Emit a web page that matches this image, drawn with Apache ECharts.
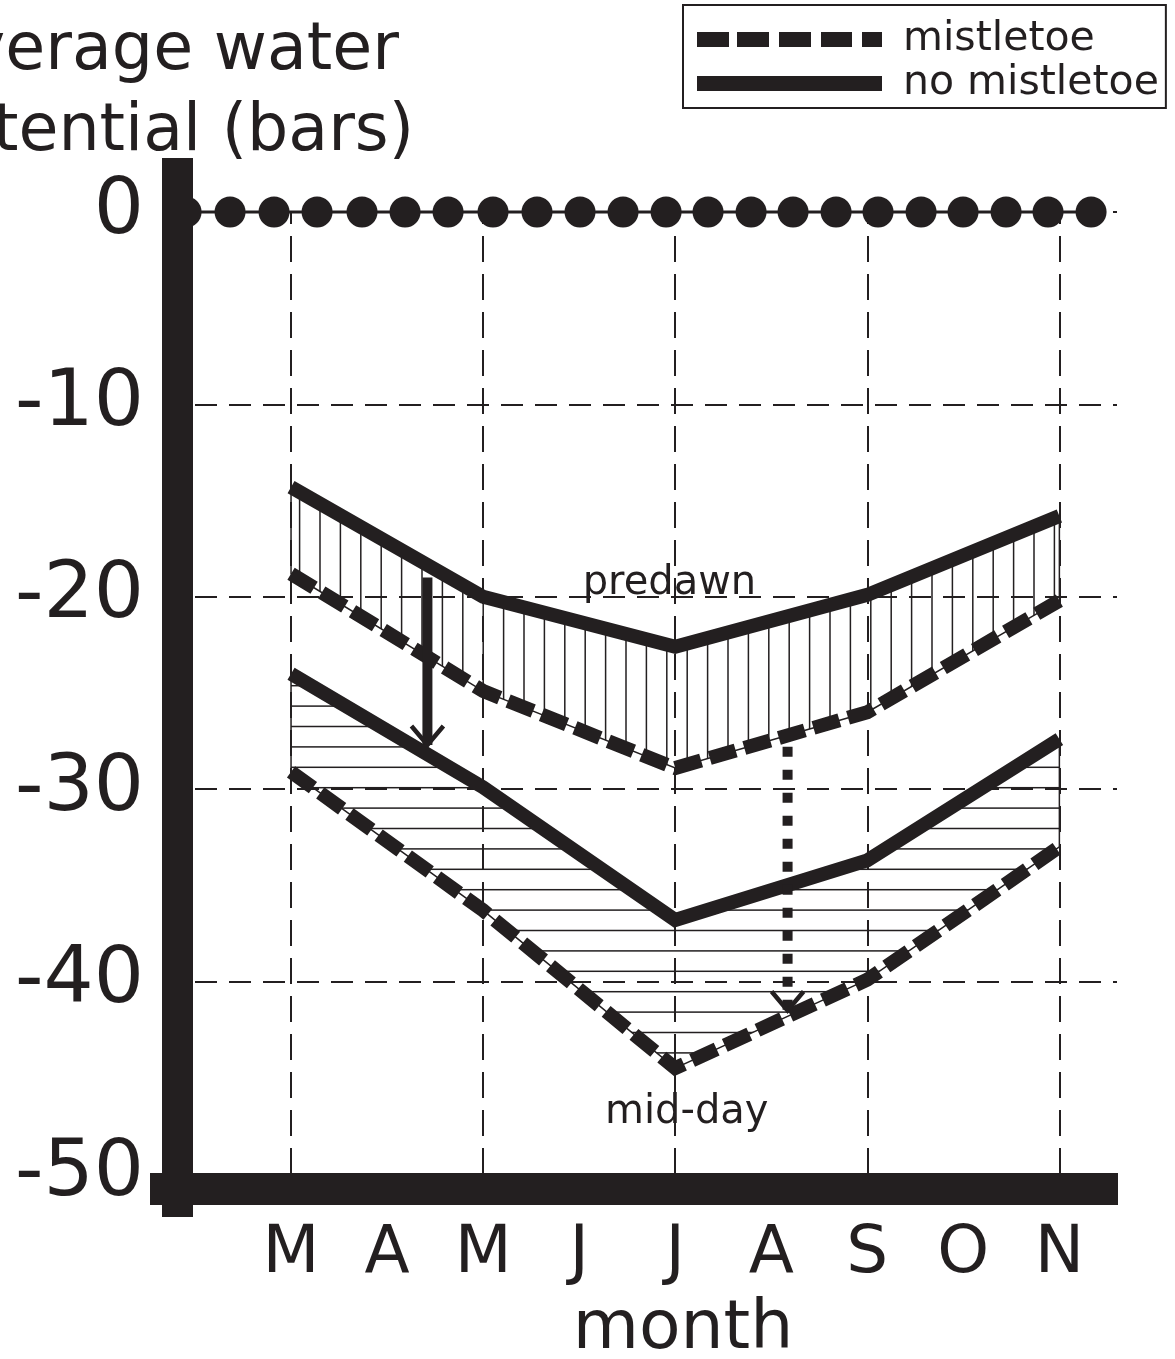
<!DOCTYPE html>
<html><head><meta charset="utf-8">
<script src="https://cdn.jsdelivr.net/npm/echarts@6/dist/echarts.min.js"></script>
<style>html,body{margin:0;padding:0;background:#fff}#c{width:1175px;height:1359px}</style>
</head><body><div id="c"></div>
<script>
// ---- data ----
const months = [3, 5, 7, 9, 11];                       // Mar, May, Jul, Sep, Nov
const monthTicks = [3, 4, 5, 6, 7, 8, 9, 10, 11];
const monthLabels = ['M', 'A', 'M', 'J', 'J', 'A', 'S', 'O', 'N'];
const predawnNoMistletoe = [-14.3, -20.0, -22.6, -19.9, -15.8];
const predawnMistletoe   = [-18.8, -24.9, -28.9, -26.0, -20.2];
const middayNoMistletoe  = [-24.0, -29.9, -36.8, -33.7, -27.4];
const middayMistletoe    = [-29.1, -36.3, -44.5, -39.9, -33.0];
const zeroDotMonths = [1.907, 2.365, 2.823, 3.271, 3.739, 4.187, 4.635, 5.103, 5.561, 6.009, 6.457,
                       6.905, 7.342, 7.790, 8.227, 8.675, 9.112, 9.560, 9.997, 10.445, 10.882, 11.330];
const gridMonths = [3, 5, 7, 9, 11];
const arrowMonths = [4.42, 8.17];
const arrowFrom = [-19.0, -27.8];
const arrowTo = [-27.7, -41.5];
const arrowStyles = ['solid', 'dotted'];
const noteText = ['predawn', 'mid-day'];
const noteMonths = [6.94, 7.12];
const noteValues = [-19.3, -46.8];

// ---- style ----
const INK = '#231f20';
const FONT = 'DejaVu Sans';

function hatch(vertical) {
  const c = document.createElement('canvas');
  const n = 102;
  c.width = vertical ? n : 4;
  c.height = vertical ? 4 : n;
  const ctx = c.getContext('2d');
  ctx.fillStyle = INK;
  for (let k = 0; k < 5; k++) {
    const p = (vertical ? 14 : 12.5) + k * 20.4;
    if (vertical) ctx.fillRect(p - 0.75, 0, 1.5, 4);
    else ctx.fillRect(0, p - 0.75, 4, 1.5);
  }
  return c;
}
const vHatch = hatch(true);
const hHatch = hatch(false);

function band(name, upper, lower, pattern) {
  return {
    type: 'custom', name: name, coordinateSystem: 'cartesian2d', silent: true, z: 1,
    data: [[months[0], upper[0]]],
    renderItem: function (params, api) {
      const pts = months.map((m, i) => api.coord([m, upper[i]]));
      for (let i = months.length - 1; i >= 0; i--) pts.push(api.coord([months[i], lower[i]]));
      return {
        type: 'polygon', shape: { points: pts },
        style: { fill: { image: pattern, repeat: 'repeat' }, stroke: INK, lineWidth: 1.5 }
      };
    }
  };
}

function curve(name, values, dashed) {
  return {
    type: 'line', name: name, silent: true, z: 5,
    data: months.map((m, i) => [m, values[i]]),
    symbol: 'none', showSymbol: false,
    itemStyle: { color: INK },
    lineStyle: { color: INK, width: 14, type: dashed ? [27, 9] : 'solid', join: 'miter', cap: 'butt' }
  };
}

const chart = echarts.init(document.getElementById('c'), null, { renderer: 'canvas' });
chart.setOption({
  animation: false,
  backgroundColor: '#fff',
  grid: { left: 195, right: 58, top: 212, bottom: 185, containLabel: false, outerBoundsMode: 'none' },
  legend: {
    orient: 'vertical', left: 683, top: 5, padding: [14, 7, 4, 14],
    itemWidth: 185, itemHeight: 15, itemGap: 3, selectedMode: false,
    borderColor: INK, borderWidth: 2, borderRadius: 0,
    itemStyle: { borderWidth: 0 },
    textStyle: { fontFamily: FONT, fontSize: 41, lineHeight: 40, color: INK, padding: [0, 0, 0, 16] },
    data: [
      { name: 'mistletoe', icon: 'path://M0,0H32V15H0Z M40,0H72V15H40Z M82,0H114V15H82Z M124,0H155V15H124Z M165,0H185V15H165Z' },
      { name: 'no mistletoe', icon: 'rect' }
    ]
  },
  xAxis: {
    type: 'value', min: 2, max: 11.6, interval: 1,
    axisLine: { show: false }, axisTick: { show: false }, splitLine: { show: false },
    axisLabel: {
      margin: 49, fontFamily: FONT, fontSize: 66, lineHeight: 64, color: INK,
      showMinLabel: true, showMaxLabel: true, hideOverlap: false,
      formatter: function (v) {
        const i = monthTicks.indexOf(Math.round(v * 1000) / 1000);
        return i >= 0 ? monthLabels[i] : '';
      }
    },
    name: 'month', nameLocation: 'middle', nameGap: 123, nameMoveOverlap: false,
    nameTextStyle: { fontFamily: FONT, fontSize: 68, lineHeight: 66, color: INK, padding: [0, 0, 0, 54] }
  },
  yAxis: {
    type: 'value', min: -50, max: 0, interval: 10, offset: 17,
    axisLine: { show: false }, axisTick: { show: false },
    splitLine: { show: true, lineStyle: { color: INK, width: 2, type: [22, 12] } },
    axisLabel: { margin: 34, fontFamily: FONT, fontSize: 79, color: INK, hideOverlap: false },
    name: 'average water\npotential (bars)', nameLocation: 'end', nameGap: 38, nameMoveOverlap: false,
    nameTextStyle: { fontFamily: FONT, fontSize: 65, lineHeight: 81, color: INK, align: 'center', padding: [0, 30, 0, 0] }
  },
  graphic: [
    { type: 'rect', z: 100, shape: { x: 162, y: 158, width: 31, height: 1059 }, style: { fill: INK } },
    { type: 'rect', z: 100, shape: { x: 150, y: 1173, width: 968, height: 32 }, style: { fill: INK } }
  ],
  series: [
    band('predawn band', predawnNoMistletoe, predawnMistletoe, vHatch),
    band('mid-day band', middayNoMistletoe, middayMistletoe, hHatch),
    {
      type: 'line', name: 'zero', silent: true, z: 4, clip: false,
      data: zeroDotMonths.map(m => [m, 0]),
      symbol: 'circle', symbolSize: 31, showSymbol: true, showAllSymbol: true,
      itemStyle: { color: INK }, lineStyle: { color: INK, width: 3 },
      markLine: {
        silent: true, symbol: ['none', 'none'], label: { show: false },
        lineStyle: { color: INK, width: 2, type: [26, 12] },
        data: gridMonths.map(m => ({ xAxis: m }))
      }
    },
    curve('mistletoe', predawnMistletoe, true),
    curve('mistletoe', middayMistletoe, true),
    curve('no mistletoe', predawnNoMistletoe, false),
    curve('no mistletoe', middayNoMistletoe, false),
    {
      type: 'custom', name: 'arrows', coordinateSystem: 'cartesian2d', silent: true, z: 6,
      data: arrowMonths.map((m, i) => [m, arrowFrom[i], arrowTo[i], i]),
      encode: { x: 0, y: [1, 2] },
      renderItem: function (params, api) {
        const i = api.value(3);
        const a = api.coord([api.value(0), api.value(1)]);
        const b = api.coord([api.value(0), api.value(2)]);
        const dotted = arrowStyles[i] === 'dotted';
        return {
          type: 'group', children: [
            { type: 'line', shape: { x1: a[0], y1: a[1], x2: b[0], y2: b[1] },
              style: { stroke: INK, lineWidth: 10, lineDash: dotted ? [10, 13] : null } },
            { type: 'polyline', shape: { points: [[b[0] - 16, b[1] - 19], [b[0], b[1]], [b[0] + 16, b[1] - 19]] },
              style: { stroke: INK, lineWidth: 4.5, fill: 'none' } }
          ]
        };
      }
    },
    {
      type: 'custom', name: 'notes', coordinateSystem: 'cartesian2d', silent: true, z: 7,
      data: noteText.map((t, i) => [noteMonths[i], noteValues[i], i]),
      encode: { x: 0, y: 1 },
      renderItem: function (params, api) {
        const p = api.coord([api.value(0), api.value(1)]);
        return {
          type: 'text', x: p[0], y: p[1],
          style: { text: noteText[api.value(2)], fill: INK, font: '40px "DejaVu Sans"', align: 'center', verticalAlign: 'middle' }
        };
      }
    }
  ]
});
</script>
</body></html>
